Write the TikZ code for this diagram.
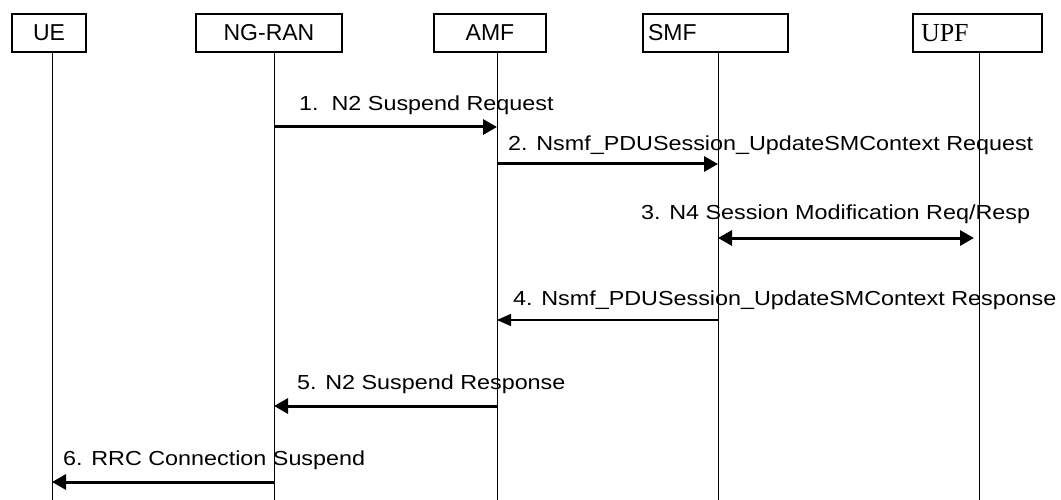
\documentclass[tikz,border=0pt]{standalone}
\usepackage{fontspec}
\setmainfont{Liberation Sans}
\newfontfamily\msgfont[FakeStretch=1.15]{Liberation Sans}
\newfontfamily\upffont{Liberation Serif}
\usetikzlibrary{arrows.meta}

\begin{document}
\begin{tikzpicture}[x=1pt,y=-1pt,
    actor/.style={draw, line width=1.6pt, minimum height=38pt, inner sep=0pt, font=\fontsize{23}{25}\selectfont},
    life/.style={line width=0.8pt},
    msg/.style={-{Triangle[length=14pt,width=15pt]}, line width=3pt},
    dmsg/.style={{Triangle[length=14pt,width=15pt]}-{Triangle[length=14pt,width=15pt]}, line width=3pt},
    thin msg/.style={-{Triangle[length=14pt,width=12pt]}, line width=1.3pt},
    lbl/.style={anchor=base west, inner sep=0pt, font=\msgfont\fontsize{20.3}{23}\selectfont}
  ]
    \useasboundingbox (0,0) rectangle (1061,500);
    \node[actor, minimum width=74pt](ue) at (49,33){UE};
    \node[actor, minimum width=146pt](ngran) at (269,33){NG-RAN};
    \node[actor, minimum width=112pt](amf) at (490,33){AMF};
    \node[actor, text width=135pt, inner xsep=5pt, align=left](smf) at (715.5,33){SMF};
    \node[actor, text width=113pt, inner xsep=8pt, align=left, font=\upffont\fontsize{26}{28}\selectfont](upf) at (977.5,33){UPF};
    \coordinate (ueEnd) at (52,500);
    \coordinate (ngranEnd) at (274,500);
    \coordinate (amfEnd) at (497,500);
    \coordinate (smfEnd) at (718,500);
    \coordinate (upfEnd) at (979,500);
    \foreach \p in {ue,ngran,amf,smf,upf}
      \draw[life](\p.south -| \p End)--(\p End);
    \coordinate (m1) at (0,127);
    \coordinate (m2) at (0,164);
    \coordinate (m3) at (0,238);
    \coordinate (m4) at (0,320);
    \coordinate (m5) at (0,406);
    \coordinate (m6) at (0,482);
    \coordinate (upfIn) at (974,238);
    \draw[msg](ngranEnd |- m1)--(amfEnd |- m1);
    \draw[msg](amfEnd |- m2)--(smfEnd |- m2);
    \draw[dmsg](smfEnd |- m3)--(upfIn);
    \draw[thin msg](smfEnd |- m4)--(amfEnd |- m4);
    \draw[msg](amfEnd |- m5)--(ngranEnd |- m5);
    \draw[msg](ngranEnd |- m6)--(ueEnd |- m6);
    \node[lbl](l1) at (299,111){1.\ \ N2 Suspend Request};
    \node[lbl](l2) at (508,151){2. Nsmf\_PDUSession\_UpdateSMContext Request};
    \node[lbl](l3) at (641,219){3. N4 Session Modification Req/Resp};
    \node[lbl](l4) at (513,305){4. Nsmf\_PDUSession\_UpdateSMContext Response};
    \node[lbl](l5) at (297,389){5. N2 Suspend Response};
    \node[lbl](l6) at (63,465){6. RRC Connection Suspend};
\end{tikzpicture}
\end{document}
